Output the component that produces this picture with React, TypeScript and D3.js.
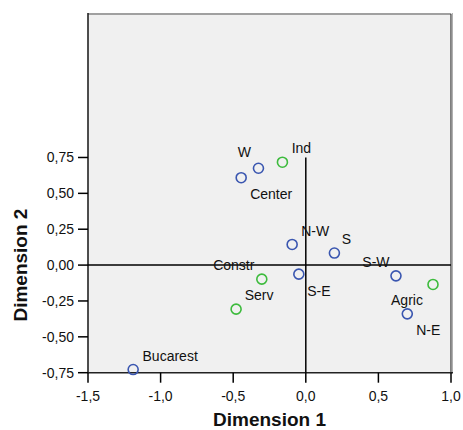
import React from "react";
import * as d3 from "d3";

const regionNames = ["W", "Center", "N-W", "S", "S-W", "N-E", "S-E", "Bucarest"];
const regionDim1 = [-0.326, -0.445, -0.094, 0.197, 0.621, 0.699, -0.048, -1.189];
const regionDim2 = [0.675, 0.609, 0.144, 0.084, -0.075, -0.34, -0.063, -0.728];

const sectorNames = ["Ind", "Agric", "Constr", "Serv"];
const sectorDim1 = [-0.161, 0.876, -0.303, -0.48];
const sectorDim2 = [0.717, -0.135, -0.098, -0.307];

const xTicks = [-1.5, -1.0, -0.5, 0.0, 0.5, 1.0];
const yTicks = [-0.75, -0.5, -0.25, 0.0, 0.25, 0.5, 0.75];

// label placement offsets (pixels) relative to each point
const regionLabelOffsets: [number, number][] = [
  [-14, -16], [30, 16], [23, -13], [12, -14], [-20, -14], [21, 16], [20, 17], [37, -13],
];
const sectorLabelOffsets: [number, number][] = [
  [19, -14], [-26, 16], [-28, -14], [23, -14],
];

const W = 463, H = 430;
const left = 88, right = 451, top = 14, bottom = 372.7;
const BLUE = "#3a56b0";
const GREEN = "#3dbb3d";
const FONT = "'Liberation Sans', Arial, sans-serif";

export default function App() {
  const x = d3.scaleLinear().domain([-1.5, 1.0]).range([left, right]);
  const y = d3.scaleLinear().domain([-0.75, 1.75]).range([bottom, top]);
  const fmtX = (v: number) => d3.format(".1f")(v).replace(".", ",").replace("−", "-");
  const fmtY = (v: number) => d3.format(".2f")(v).replace(".", ",").replace("−", "-");

  const points = [
    ...regionNames.map((n, i) => ({ name: n, px: x(regionDim1[i]), py: y(regionDim2[i]), c: BLUE, off: regionLabelOffsets[i] })),
    ...sectorNames.map((n, i) => ({ name: n, px: x(sectorDim1[i]), py: y(sectorDim2[i]), c: GREEN, off: sectorLabelOffsets[i] })),
  ];

  return (
    <div style={{ position: "fixed", left: 0, top: 0, width: W, height: H, background: "#fff" }}>
      <svg width={W} height={H} style={{ display: "block", fontFamily: FONT }}>
        <rect x={left} y={top} width={right - left} height={bottom - top} fill="#f0f0f0" />
        {/* frame */}
        <line x1={left} y1={top} x2={right} y2={top} stroke="#a0a0a0" strokeWidth={2} />
        <line x1={right} y1={top} x2={right} y2={bottom} stroke="#333" strokeWidth={1.2} />
        <line x1={right + 1.3} y1={top - 1} x2={right + 1.3} y2={bottom} stroke="#a8a8a8" strokeWidth={1.2} />
        <line x1={left} y1={top - 1} x2={left} y2={bottom + 0.5} stroke="#222" strokeWidth={1.6} />
        <line x1={left} y1={bottom} x2={right + 2} y2={bottom} stroke="#222" strokeWidth={1.6} />

        {/* reference lines */}
        <line x1={left} y1={y(0)} x2={right} y2={y(0)} stroke="#000" strokeWidth={1.5} />
        <line x1={x(0)} y1={y(0.75)} x2={x(0)} y2={bottom} stroke="#000" strokeWidth={1.5} />

        {/* y ticks */}
        {yTicks.map((t) => (
          <g key={"y" + t}>
            <line x1={left - 10} x2={left} y1={y(t)} y2={y(t)} stroke="#000" strokeWidth={1.5} />
            <text x={left - 14} y={y(t)} dy="0.35em" textAnchor="end" fontSize={14} fill="#111">
              {fmtY(t)}
            </text>
          </g>
        ))}
        {/* x ticks */}
        {xTicks.map((t) => (
          <g key={"x" + t}>
            <line x1={x(t)} x2={x(t)} y1={bottom} y2={bottom + 10} stroke="#000" strokeWidth={1.5} />
            <text x={x(t)} y={401} textAnchor="middle" fontSize={14} fill="#111">
              {fmtX(t)}
            </text>
          </g>
        ))}

        {/* points */}
        {points.map((p) => (
          <g key={p.name}>
            <circle cx={p.px} cy={p.py} r={5} fill="none" stroke={p.c} strokeWidth={1.6} />
            <text x={p.px + p.off[0]} y={p.py + p.off[1]} dy="0.35em" textAnchor="middle" fontSize={14} fill="#111">
              {p.name}
            </text>
          </g>
        ))}

        {/* axis titles */}
        <text x={(left + right) / 2} y={426} textAnchor="middle" fontSize={19} fontWeight="bold" fill="#111">
          Dimension 1
        </text>
        <text
          transform={`translate(27, ${y(0)}) rotate(-90)`}
          textAnchor="middle"
          fontSize={19}
          fontWeight="bold"
          fill="#111"
        >
          Dimension 2
        </text>
      </svg>
    </div>
  );
}
